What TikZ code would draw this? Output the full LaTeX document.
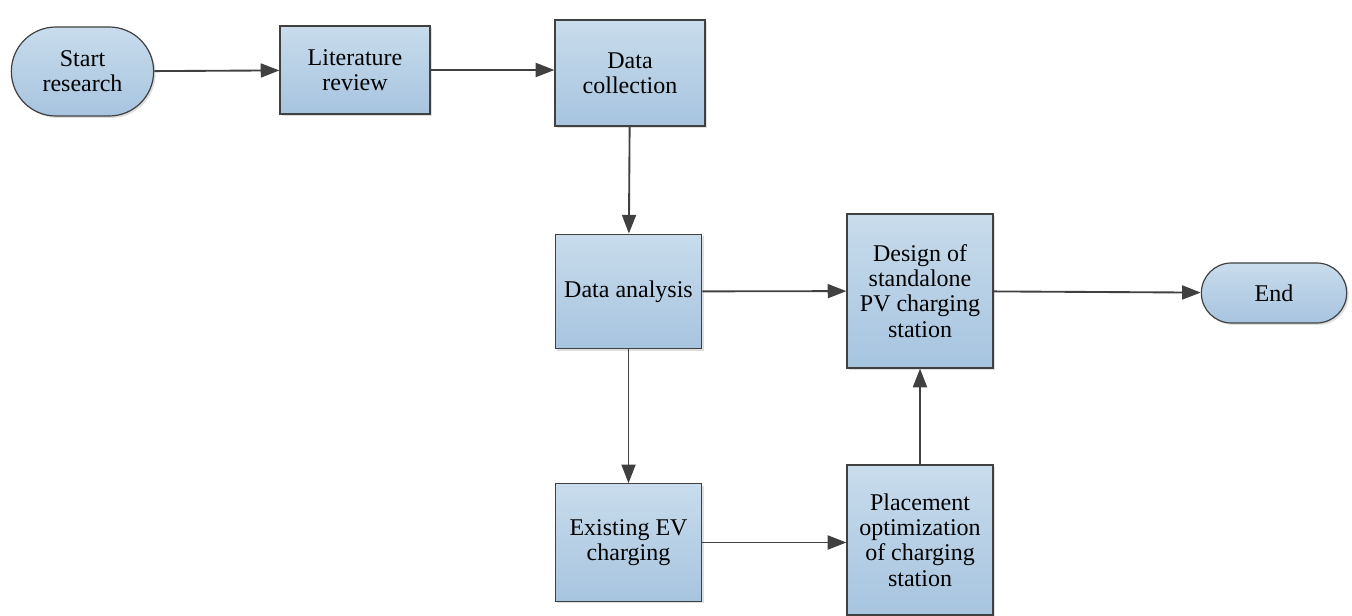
\documentclass[tikz,border=0pt]{standalone}
\usepackage{fontspec}
\setmainfont{Liberation Serif}
\usepackage{tikz}
\usetikzlibrary{arrows.meta,shapes.misc,shadows}

\definecolor{boxtop}{HTML}{C8DCEC}
\definecolor{boxbot}{HTML}{A7C4DF}
\definecolor{edge}{HTML}{404040}

\begin{document}
\begin{tikzpicture}[x=0.75pt,y=0.75pt,yscale=-1,xscale=1,
  stepbox/.style={draw=edge,line width=0.9pt,top color=boxtop,bottom color=boxbot,
    align=center,font=\rmfamily\fontsize{18}{19}\selectfont,inner sep=1pt,
    drop shadow={shadow xshift=1.5pt,shadow yshift=-1.5pt,opacity=0.25}},
  term/.style={stepbox,rounded rectangle},
  flow/.style={draw=edge,line width=1.4pt,-{Triangle[length=14pt,width=10.5pt]}}]

\useasboundingbox (0,0) rectangle (1352,616);

% start and end
\node (start) [term,minimum width=108.75pt,minimum height=66.75pt] at (82.5,71.5) {Start\\research};
\node (end) [term,minimum width=111pt,minimum height=45pt] at (1274,293) {End};

% steps
\node (lit) [stepbox,minimum width=112.5pt,minimum height=66pt] at (355,70) {Literature\\review};
\node (coll) [stepbox,minimum width=112.5pt,minimum height=79.5pt] at (630,73) {Data\\collection};
\node (ana) [stepbox,minimum width=110pt,minimum height=86pt] at (628.5,291.5) {Data analysis};
\node (design) [stepbox,minimum width=109.5pt,minimum height=115.5pt] at (920,291) {Design of\\standalone\\PV charging\\station};
\node (exist) [stepbox,minimum width=110pt,minimum height=88pt] at (628.5,542.5) {Existing EV\\charging};
\node (place) [stepbox,minimum width=109.5pt,minimum height=112.5pt] at (920,540) {Placement\\optimization\\of charging\\station};

% connectors
\draw[flow] (start) -- (lit);
\draw[flow] (lit) -- (coll.west |- lit);
\draw[flow] (coll) -- (ana);
\draw[flow] (ana) -- (design);
\draw[flow] (design) -- (end);
\draw[flow] (ana) -- (exist);
\draw[flow] (exist) -- (place.west |- exist);
\draw[flow] (place) -- (design);

\end{tikzpicture}
\end{document}
